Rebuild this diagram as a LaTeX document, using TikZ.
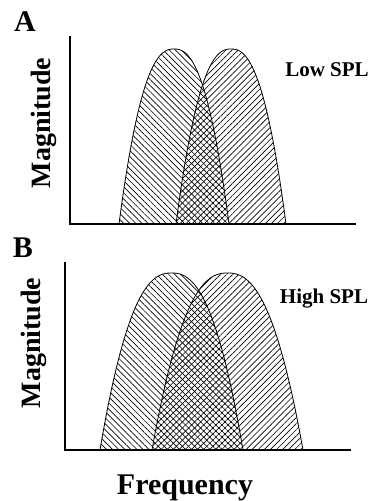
\documentclass[tikz,border=0pt]{standalone}
\usepackage{fontspec}
\setmainfont{Liberation Serif}
\usetikzlibrary{patterns.meta}

\begin{document}
\begin{tikzpicture}[
    x=1pt, y=1pt,
    every node/.style={font=\bfseries, inner sep=0pt},
    axis/.style={line width=2.8pt, line cap=rect},
    lefthump/.style={draw, line width=0.8pt, pattern={Lines[angle=-45, distance=4.3pt, line width=0.65pt]}},
    righthump/.style={draw, line width=0.8pt, pattern={Lines[angle=45, distance=4.3pt, line width=0.65pt]}}
]
\useasboundingbox (0,0) rectangle (373,501);

% panel A
\node (labA) at (25,479) {\fontsize{30}{30}\selectfont A};
\draw[axis] (70,464) -- (70,277) -- (355,277);
\draw[lefthump] plot[domain=-1:1, samples=60] ({174+55*\x}, {277+175*(1-abs(\x)^2.4)});
\draw[righthump] plot[domain=-1:1, samples=60] ({231+55*\x}, {277+175*(1-abs(\x)^2.4)});
\node[rotate=90] (magA) at (44,378) {\fontsize{28}{28}\selectfont Magnitude};
\node (low) at (327,431) {\fontsize{21}{21}\selectfont Low SPL};

% panel B
\node (labB) at (23,253) {\fontsize{30}{30}\selectfont B};
\draw[axis] (65,238) -- (65,51) -- (350,51);
\draw[lefthump] plot[domain=-1:1, samples=60] ({171.5+71.5*\x}, {51+177*(1-abs(\x)^2.4)});
\draw[righthump] plot[domain=-1:1, samples=60] ({227.5+75.5*\x}, {51+177*(1-abs(\x)^2.4)});
\node[rotate=90] (magB) at (34,158) {\fontsize{28}{28}\selectfont Magnitude};
\node (high) at (324,202) {\fontsize{21}{21}\selectfont High SPL};

\node[anchor=base] (freq) at (185,6) {\fontsize{30}{30}\selectfont Frequency};
\end{tikzpicture}
\end{document}
